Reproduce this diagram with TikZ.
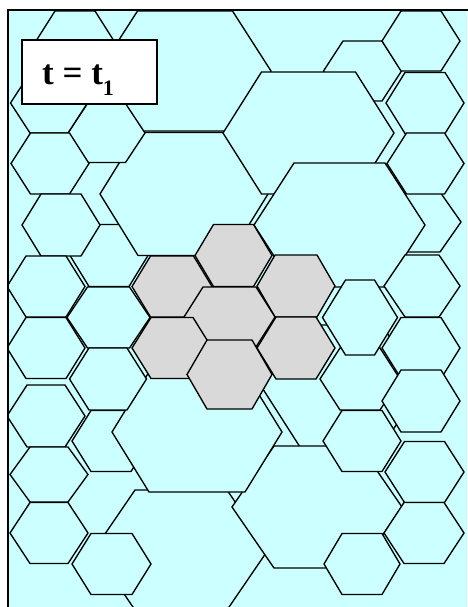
\documentclass[tikz,border=0pt]{standalone}
\usepackage{fontspec}
\setmainfont{Liberation Serif}
\definecolor{hexcyan}{RGB}{204,255,255}
\definecolor{hexgrey}{RGB}{217,217,217}
\newcommand{\hx}[6]{\filldraw[#1] ({#2-#4},{#3}) -- ({#2-#5},{#3-#6}) -- ({#2+#5},{#3-#6}) -- ({#2+#4},{#3}) -- ({#2+#5},{#3+#6}) -- ({#2-#5},{#3+#6}) -- cycle;}
\begin{document}
\begin{tikzpicture}[x=1pt,y=-1pt,
  hexc/.style={fill=hexcyan,draw=black,line width=1.35pt,line join=miter},
  hexg/.style={fill=hexgrey,draw=black,line width=1.35pt,line join=miter},
  framel/.style={draw=black,line width=1.8pt},
  labelbox/.style={draw=black,fill=white,line width=1.8pt,minimum width=135pt,minimum height=64pt,inner sep=0pt}]
\useasboundingbox (0,0) rectangle (467,607);
\fill[white] (0,0) rectangle (467,607);
\begin{scope}
\clip (8,10) rectangle (467,607);
\fill[hexcyan] (8,10) rectangle (467,607);
% large hexagons underneath
\hx{hexc}{341}{386}{80}{41}{61}
\hx{hexc}{181}{550}{87}{46}{60}
\hx{hexc}{185}{71}{86}{47.5}{60}
\hx{hexc}{109}{255.5}{39}{20}{31}
\hx{hexc}{184}{194}{84}{46}{61.5}
\hx{hexc}{362.5}{71}{39}{19.5}{30}
\hx{hexc}{308.5}{133}{85.5}{47}{61}
\hx{hexc}{423}{222}{38}{17}{30}
\hx{hexc}{339.5}{225}{85.5}{45.5}{62}
\hx{hexc}{317}{507}{85}{43}{61}
\hx{hexc}{111}{441}{39}{20}{30.5}
\hx{hexc}{197}{432}{85}{48}{60}
% small hexagons, left
\hx{hexc}{106.5}{133}{38.5}{19}{29.5}
\hx{hexc}{75}{41}{39}{20}{30}
\hx{hexc}{49}{103}{38.5}{19}{30}
\hx{hexc}{50}{163.5}{39}{19.5}{30.5}
\hx{hexc}{61}{225}{39}{20}{31}
\hx{hexc}{46}{286.5}{39}{20}{30.5}
\hx{hexc}{108.5}{317.5}{41.5}{21}{30.5}
\hx{hexc}{46}{348}{39}{20}{30.5}
\hx{hexc}{108}{379}{38.5}{19}{31}
\hx{hexc}{46}{416}{39}{19}{31}
\hx{hexc}{49}{474.5}{39}{19}{27.5}
\hx{hexc}{49}{533}{39}{19}{30.5}
\hx{hexc}{111.5}{564}{39.5}{20.5}{30.5}
% small hexagons, right
\hx{hexc}{421}{41}{39}{20}{30}
\hx{hexc}{425}{103}{39}{20}{30.5}
\hx{hexc}{425.5}{163.5}{38.5}{19}{30.5}
\hx{hexc}{422}{286}{38}{17}{31}
\hx{hexc}{360}{379}{40}{20}{31}
\hx{hexc}{360}{317.5}{37.5}{14.5}{37.5}
\hx{hexc}{421}{348}{39}{20}{30.5}
\hx{hexc}{421}{401}{39}{20}{31}
\hx{hexc}{362}{441}{39}{20}{30.5}
\hx{hexc}{424.5}{472}{39.5}{20}{30.5}
\hx{hexc}{362}{564}{38}{20}{30.5}
\hx{hexc}{424}{533}{40}{20}{30.5}
% grey cluster
\hx{hexg}{233.5}{255.5}{38.5}{20}{31}
\hx{hexg}{172}{286.5}{40}{21.5}{30.5}
\hx{hexg}{296}{286}{39}{21}{31}
\hx{hexg}{229.5}{317}{45.5}{26.5}{30}
\hx{hexg}{172}{348}{40}{21}{30.5}
\hx{hexg}{296}{348}{39}{20}{31}
\hx{hexg}{229.5}{374.5}{42.5}{22.5}{34.5}
\end{scope}
\draw[framel] (8,640) -- (8,10) -- (500,10);
\node[labelbox] (lbl) at (89.5,72) {};
\node[anchor=base west,inner sep=0pt] (lbltext) at (42,85) {\fontsize{35}{35}\selectfont\bfseries t = t\raisebox{-10pt}{\fontsize{22}{22}\selectfont 1}};
\end{tikzpicture}
\end{document}
